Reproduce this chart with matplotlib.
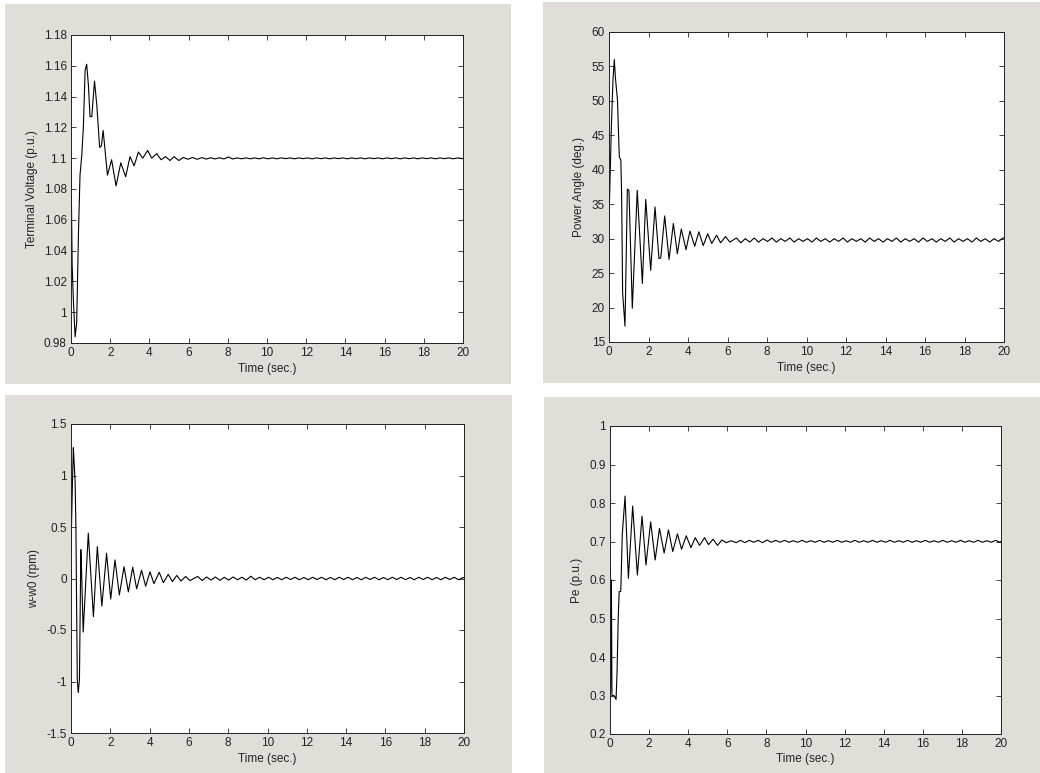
import matplotlib
matplotlib.use('Agg')   # no display on the server
import matplotlib.pyplot as plt
from matplotlib.patches import Rectangle
from matplotlib.ticker import FuncFormatter

# ── Data ──────────────────────────────────────────────────────────
# early transient (own time points per signal)
t_vt = [0.0, 0.06, 0.12, 0.21, 0.29, 0.38, 0.46, 0.55, 0.63, 0.72,
        0.8, 0.89, 0.97, 1.06, 1.2, 1.32, 1.46, 1.55, 1.64, 1.86,
        2.07, 2.3, 2.54, 2.79, 3.01, 3.22, 3.44, 3.66, 3.91, 4.12,
        4.37, 4.6, 4.83, 5.05, 5.26, 5.5, 5.73, 5.96, 6.2]
vt = [1.097, 1.03, 1.008, 0.984, 0.993, 1.051, 1.089, 1.102, 1.12, 1.157,
      1.161, 1.147, 1.127, 1.127, 1.15, 1.134, 1.107, 1.108, 1.118, 1.089,
      1.099, 1.082, 1.097, 1.088, 1.101, 1.095, 1.104, 1.100, 1.105, 1.100,
      1.103, 1.099, 1.101, 1.0985, 1.101, 1.0985, 1.1005, 1.0993, 1.1005]

t_delta = [0.0, 0.03, 0.12, 0.2, 0.27, 0.32, 0.43, 0.52, 0.6, 0.64,
           0.69, 0.81, 0.93, 1.01, 1.18, 1.43, 1.69, 1.86, 2.11, 2.33,
           2.53, 2.62, 2.82, 3.04, 3.26, 3.46, 3.66, 3.9, 4.1, 4.34,
           4.55, 4.77, 5.0, 5.2, 5.45, 5.65, 5.9, 6.12]
delta = [32.0, 36.0, 46.3, 53.0, 56.0, 53.5, 50.1, 41.9, 41.4, 36.1,
         22.1, 17.3, 37.2, 37.0, 19.9, 37.0, 23.5, 35.7, 25.4, 34.6,
         27.1, 27.2, 33.3, 27.0, 32.2, 27.8, 31.4, 28.4, 31.1, 28.9,
         31.0, 29.0, 30.7, 29.3, 30.5, 29.4, 30.3, 29.5]

t_dw = [0.0, 0.07, 0.12, 0.15, 0.21, 0.25, 0.32, 0.37, 0.43, 0.5,
        0.53, 0.62, 0.88, 1.14, 1.34, 1.57, 1.81, 2.02, 2.24, 2.46,
        2.7, 2.92, 3.14, 3.34, 3.59, 3.8, 4.02, 4.22, 4.49, 4.7,
        4.95, 5.16, 5.38, 5.6, 5.83, 6.05]
dw = [0.28, 0.9, 1.27, 1.16, 0.94, 0.5, -0.985, -1.108, -0.98, 0.28,
      0.13, -0.52, 0.44, -0.37, 0.31, -0.267, 0.245, -0.2, 0.18, -0.16,
      0.115, -0.13, 0.11, -0.1, 0.08, -0.075, 0.065, -0.05, 0.06, -0.04,
      0.04, -0.03, 0.03, -0.025, 0.02, -0.02]

t_pe = [0.0, 0.03, 0.07, 0.1, 0.2, 0.31, 0.36, 0.42, 0.47, 0.55,
        0.63, 0.77, 0.94, 1.16, 1.4, 1.64, 1.84, 2.08, 2.31, 2.53,
        2.77, 2.99, 3.21, 3.45, 3.66, 3.9, 4.14, 4.36, 4.58, 4.84,
        5.04, 5.27, 5.5, 5.73, 5.95, 6.19]
pe = [0.674, 0.31, 0.6, 0.3, 0.3, 0.29, 0.36, 0.5, 0.57, 0.57,
      0.72, 0.818, 0.6045, 0.792, 0.613, 0.766, 0.639, 0.751, 0.652, 0.734,
      0.67, 0.73, 0.674, 0.72, 0.68, 0.715, 0.684, 0.71, 0.69, 0.71,
      0.692, 0.706, 0.69, 0.704, 0.697, 0.702]

# small steady-state ripple, shared time points
t_tail = [6.45, 6.675, 6.9, 7.125, 7.35, 7.575, 7.8, 8.025, 8.25, 8.475,
          8.7, 8.925, 9.15, 9.375, 9.6, 9.825, 10.05, 10.275, 10.5, 10.725,
          10.95, 11.175, 11.4, 11.625, 11.85, 12.075, 12.3, 12.525, 12.75, 12.975,
          13.2, 13.425, 13.65, 13.875, 14.1, 14.325, 14.55, 14.775, 15.0, 15.225,
          15.45, 15.675, 15.9, 16.125, 16.35, 16.575, 16.8, 17.025, 17.25, 17.475,
          17.7, 17.925, 18.15, 18.375, 18.6, 18.825, 19.05, 19.275, 19.5, 19.725,
          19.95, 20.0]
vt_tail = [1.0993, 1.1004, 1.0994, 1.1003, 1.0995, 1.1003, 1.0995, 1.1008, 1.0995, 1.1002,
           1.0996, 1.1002, 1.0996, 1.1002, 1.0996, 1.1003, 1.0996, 1.1002, 1.0996, 1.1002,
           1.0997, 1.1002, 1.0996, 1.1002, 1.0997, 1.1002, 1.0996, 1.1002, 1.0997, 1.1002,
           1.0996, 1.1002, 1.0997, 1.1002, 1.0996, 1.1002, 1.0997, 1.1002, 1.0996, 1.1002,
           1.0997, 1.1002, 1.0996, 1.1002, 1.0997, 1.1002, 1.0996, 1.1002, 1.0997, 1.1002,
           1.0996, 1.1002, 1.0997, 1.1002, 1.0996, 1.1002, 1.0997, 1.1002, 1.0996, 1.1002,
           1.0997, 1.1000]
delta_tail = [30.1, 29.4, 30.0, 29.5, 30.1, 29.5, 30.0, 29.6, 30.1, 29.5,
              30.0, 29.6, 30.1, 29.5, 30.0, 29.6, 30.0, 29.5, 30.1, 29.6,
              30.0, 29.5, 30.0, 29.6, 30.1, 29.5, 30.0, 29.6, 30.0, 29.5,
              30.1, 29.6, 30.0, 29.5, 30.0, 29.6, 30.1, 29.5, 30.0, 29.6,
              30.0, 29.5, 30.1, 29.6, 30.0, 29.5, 30.0, 29.6, 30.1, 29.5,
              30.0, 29.6, 30.0, 29.5, 30.1, 29.6, 30.0, 29.5, 30.0, 29.6,
              30.1, 30.1]
dw_tail = [0.02, -0.02, 0.015, -0.015, 0.015, -0.018, 0.012, -0.015, 0.015, -0.012,
           0.012, -0.015, 0.022, -0.012, 0.012, -0.012, 0.012, -0.012, 0.01, -0.012,
           0.012, -0.01, 0.012, -0.012, 0.01, -0.012, 0.012, -0.01, 0.012, -0.012,
           0.01, -0.012, 0.012, -0.01, 0.012, -0.012, 0.01, -0.012, 0.012, -0.01,
           0.012, -0.012, 0.01, -0.012, 0.012, -0.01, 0.012, -0.012, 0.01, -0.012,
           0.012, -0.01, 0.012, -0.012, 0.01, -0.012, 0.012, -0.01, 0.012, -0.012,
           0.01, 0.005]
pe_tail = [0.697, 0.703, 0.697, 0.703, 0.698, 0.703, 0.697, 0.704, 0.698, 0.703,
           0.698, 0.703, 0.698, 0.702, 0.698, 0.703, 0.698, 0.702, 0.698, 0.703,
           0.698, 0.702, 0.698, 0.703, 0.698, 0.702, 0.698, 0.703, 0.698, 0.702,
           0.698, 0.703, 0.698, 0.702, 0.698, 0.703, 0.698, 0.702, 0.698, 0.703,
           0.698, 0.702, 0.698, 0.703, 0.698, 0.702, 0.698, 0.703, 0.698, 0.702,
           0.698, 0.703, 0.698, 0.702, 0.698, 0.703, 0.698, 0.702, 0.698, 0.703,
           0.698, 0.700]

x_ticks = [0, 2, 4, 6, 8, 10, 12, 14, 16, 18, 20]
vt_ticks = [0.98, 1.0, 1.02, 1.04, 1.06, 1.08, 1.1, 1.12, 1.14, 1.16, 1.18]
delta_ticks = [15, 20, 25, 30, 35, 40, 45, 50, 55, 60]
dw_ticks = [-1.5, -1.0, -0.5, 0.0, 0.5, 1.0, 1.5]
pe_ticks = [0.2, 0.3, 0.4, 0.5, 0.6, 0.7, 0.8, 0.9, 1.0]

# ── Figure layout (pixels, origin top-left) ──────────────────────
W, H = 1040, 773
GREY = '#e1deda'
FS = 8.5
plt.rcParams['font.family'] = ['Liberation Sans', 'DejaVu Sans']
plt.rcParams['axes.unicode_minus'] = False

fig = plt.figure(figsize=(W / 100, H / 100), dpi=100)
fig.patch.set_facecolor('white')

fmt = FuncFormatter(lambda v, p: '%g' % round(v, 4))


def panel(grey, box, t, y, ticks, ylabel, ylab_x, xlab_y):
    gx0, gy0, gx1, gy1 = grey
    fig.add_artist(Rectangle((gx0 / W, 1 - gy1 / H), (gx1 - gx0) / W, (gy1 - gy0) / H,
                             transform=fig.transFigure, facecolor=GREY,
                             edgecolor='none', zorder=-5))
    x0, y0, x1, y1 = box
    ax = fig.add_axes([x0 / W, 1 - y1 / H, (x1 - x0) / W, (y1 - y0) / H])
    ax.set_facecolor('white')
    ax.plot(t, y, color='black', lw=0.8)
    ax.set_xlim(0, 20)
    ax.set_ylim(ticks[0], ticks[-1])
    ax.set_xticks(x_ticks)
    ax.set_yticks(ticks)
    ax.xaxis.set_major_formatter(fmt)
    ax.yaxis.set_major_formatter(fmt)
    ax.tick_params(direction='in', length=3.5, width=0.6, top=True, right=True,
                   labelsize=FS, pad=3, colors='#222222')
    for s in ax.spines.values():
        s.set_linewidth(0.7)
        s.set_color('#222222')
    fig.text(ylab_x / W, 1 - (y0 + y1) / 2 / H, ylabel, rotation=90,
             ha='center', va='center', fontsize=FS, color='#222222')
    fig.text((x0 + x1) / 2 / W, 1 - xlab_y / H, 'Time (sec.)',
             ha='center', va='center', fontsize=FS, color='#222222')
    return ax


panel((5, 4, 511, 384), (71, 35, 463, 343), t_vt + t_tail, vt + vt_tail,
      vt_ticks, 'Terminal Voltage (p.u.)', 32, 369)
panel((543, 2, 1040, 383), (609, 32, 1004, 342), t_delta + t_tail, delta + delta_tail,
      delta_ticks, 'Power Angle (deg.)', 579, 368)
panel((5, 395, 512, 773), (71, 424, 464, 733), t_dw + t_tail, dw + dw_tail,
      dw_ticks, 'w-w0 (rpm)', 34, 759)
panel((544, 397, 1040, 773), (610, 426, 1001, 734), t_pe + t_tail, pe + pe_tail,
      pe_ticks, 'Pe (p.u.)', 577, 759)

plt.savefig('out.png', dpi=100, facecolor=fig.get_facecolor())
plt.close()
print("Saved plot to: out.png")
